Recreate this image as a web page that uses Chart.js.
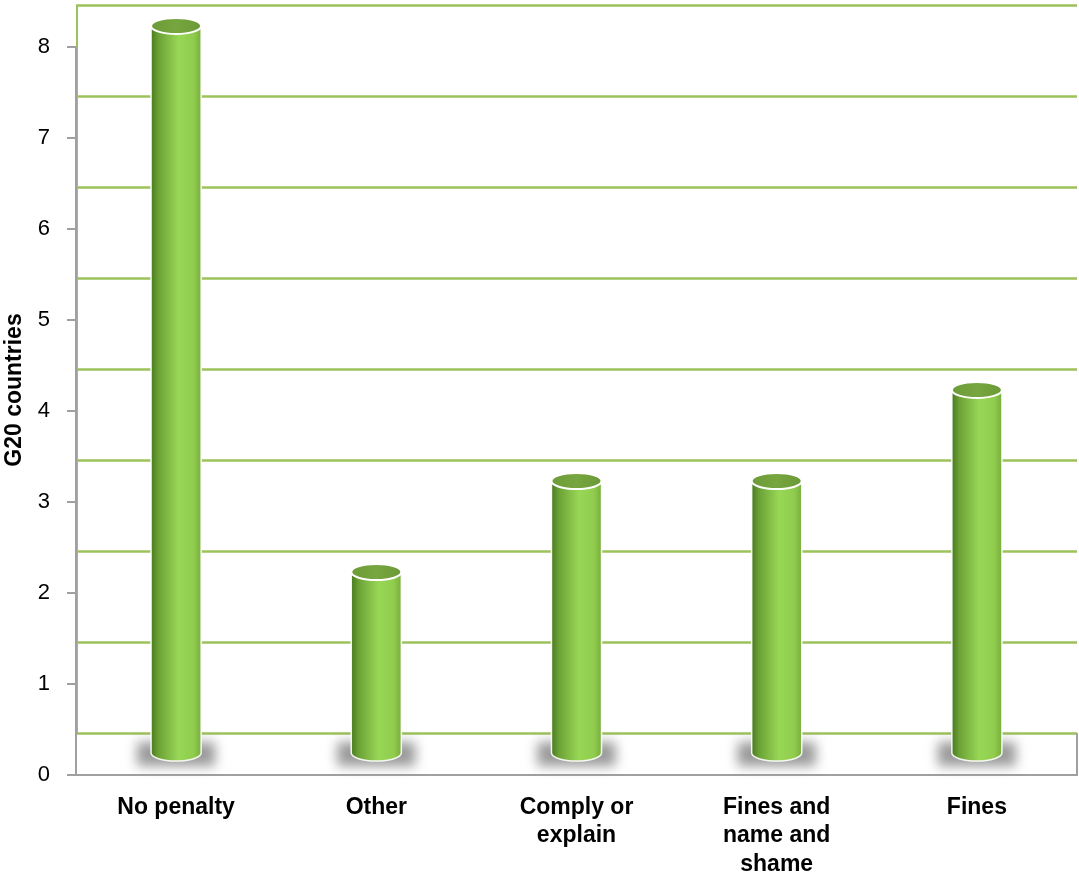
<!DOCTYPE html>
<html>
<head>
<meta charset="utf-8">
<script src="https://cdn.jsdelivr.net/npm/chart.js@4.4.1/dist/chart.umd.min.js"></script>
<style>
  html, body { margin: 0; padding: 0; background: #fff; }
  #wrap { width: 1079px; height: 877px; }
</style>
</head>
<body>
<div id="wrap"><canvas id="myChart" width="1079" height="877"></canvas></div>
<script>
// data
const categories = ['No penalty', 'Other', ['Comply or', 'explain'], ['Fines and', 'name and', 'shame'], 'Fines'];
const countries = [8, 2, 3, 3, 4];
const yTicks = [0, 1, 2, 3, 4, 5, 6, 7, 8];

// 3d look: back wall sits this many units above the front axis
const wallOffset = 0.46;
const gridGreen = '#9cc25b';
const axisGray = '#a0a0a0';

// draws back wall grid, floor and the cylinders
const cylinders = {
    id: 'cylinders',
    beforeDatasetsDraw(chart) {
        const ctx = chart.ctx;
        const area = chart.chartArea;
        const y = chart.scales.y;
        const depth = y.getPixelForValue(0) - y.getPixelForValue(wallOffset);
        ctx.save();
        // back wall gridlines
        ctx.strokeStyle = gridGreen;
        ctx.lineWidth = 2.5;
        yTicks.forEach(function(v) {
            const py = Math.round(y.getPixelForValue(v) - depth) + 0.5;
            ctx.beginPath();
            ctx.moveTo(area.left, py);
            ctx.lineTo(area.right, py);
            ctx.stroke();
        });
        // back wall left edge
        ctx.lineWidth = 2;
        ctx.beginPath();
        ctx.moveTo(area.left + 1, y.getPixelForValue(yTicks[yTicks.length - 1]) - depth);
        ctx.lineTo(area.left + 1, y.getPixelForValue(0) - depth);
        ctx.stroke();
        // floor front and right edge
        ctx.strokeStyle = axisGray;
        ctx.lineWidth = 2;
        ctx.beginPath();
        ctx.moveTo(area.left, area.bottom);
        ctx.lineTo(area.right, area.bottom);
        ctx.lineTo(area.right, y.getPixelForValue(0) - depth);
        ctx.stroke();
        // y axis line
        ctx.beginPath();
        ctx.moveTo(area.left, y.getPixelForValue(yTicks[yTicks.length - 1]));
        ctx.lineTo(area.left, area.bottom);
        ctx.stroke();
        ctx.restore();
    },
    afterDatasetsDraw(chart) {
        const ctx = chart.ctx;
        const y = chart.scales.y;
        const depth = y.getPixelForValue(0) - y.getPixelForValue(wallOffset);
        const shift = depth / 2;
        const meta = chart.getDatasetMeta(0);
        meta.data.forEach(function(bar) {
            const w = bar.width;
            const left = bar.x - w / 2;
            const right = bar.x + w / 2;
            const top = bar.y - shift;
            const bottom = bar.base - shift;
            const ry = 8;

            // soft shadow on the floor
            ctx.save();
            ctx.filter = 'blur(6px)';
            ctx.fillStyle = 'rgba(120,120,120,0.75)';
            ctx.fillRect(bar.x - w * 0.78, bottom - 11, w * 1.56, 24);
            ctx.restore();

            // body
            ctx.save();
            const g = ctx.createLinearGradient(left, 0, right, 0);
            g.addColorStop(0, '#4a7a1f');
            g.addColorStop(0.15, '#6ca236');
            g.addColorStop(0.55, '#98d756');
            g.addColorStop(0.85, '#90cc4d');
            g.addColorStop(1, '#78ad3e');
            ctx.beginPath();
            ctx.moveTo(left, top);
            ctx.lineTo(left, bottom);
            ctx.ellipse(bar.x, bottom, w / 2, ry, 0, Math.PI, 0, true);
            ctx.lineTo(right, top);
            ctx.closePath();
            ctx.fillStyle = g;
            ctx.fill();
            ctx.strokeStyle = 'rgba(255,255,255,0.9)';
            ctx.lineWidth = 1.5;
            ctx.stroke();

            // top cap
            const cg = ctx.createLinearGradient(left, 0, right, 0);
            cg.addColorStop(0, '#6c9c38');
            cg.addColorStop(0.5, '#77a53f');
            cg.addColorStop(1, '#6a9a37');
            ctx.beginPath();
            ctx.ellipse(bar.x, top, w / 2, ry, 0, 0, Math.PI * 2);
            ctx.fillStyle = cg;
            ctx.fill();
            ctx.strokeStyle = '#ffffff';
            ctx.lineWidth = 2;
            ctx.stroke();
            ctx.restore();
        });
    }
};

const ctx = document.getElementById('myChart');
const myChart = new Chart(ctx, {
    type: 'bar',
    data: {
        labels: categories,
        datasets: [{
            label: 'G20 countries',
            data: countries,
            backgroundColor: 'rgba(0,0,0,0)',
            borderWidth: 0,
            barPercentage: 0.25,
            categoryPercentage: 1
        }]
    },
    options: {
        responsive: false,
        animation: false,
        events: [],
        layout: { autoPadding: false, padding: { top: 5, right: 2, left: 0, bottom: 0 } },
        plugins: {
            legend: { display: false },
            tooltip: { enabled: false }
        },
        scales: {
            x: {
                grid: { display: false, drawTicks: false },
                border: { display: false },
                ticks: {
                    color: '#000',
                    padding: 18,
                    maxRotation: 0,
                    autoSkip: false,
                    font: { family: 'Liberation Sans, Arial, sans-serif', size: 23, weight: 'bold', lineHeight: 1.24 }
                },
                afterFit: function(s) { s.height = 102; s.paddingLeft = 0; s.paddingRight = 0; }
            },
            y: {
                min: yTicks[0],
                max: yTicks[yTicks.length - 1] + wallOffset,
                afterBuildTicks: function(s) {
                    s.ticks = yTicks.map(function(v) { return { value: v }; });
                },
                grid: { drawOnChartArea: false, drawTicks: true, tickLength: 9, color: axisGray, lineWidth: 2 },
                border: { display: false },
                ticks: {
                    color: '#000',
                    padding: 17,
                    font: { family: 'Liberation Sans, Arial, sans-serif', size: 22 }
                },
                title: {
                    display: true,
                    text: 'G20 countries',
                    color: '#000',
                    padding: { top: 1, bottom: 0 },
                    font: { family: 'Liberation Sans, Arial, sans-serif', size: 23, weight: 'bold' }
                },
                afterFit: function(s) { s.width = 76; s.paddingTop = 0; s.paddingBottom = 0; }
            }
        }
    },
    plugins: [cylinders]
});
</script>
</body>
</html>
